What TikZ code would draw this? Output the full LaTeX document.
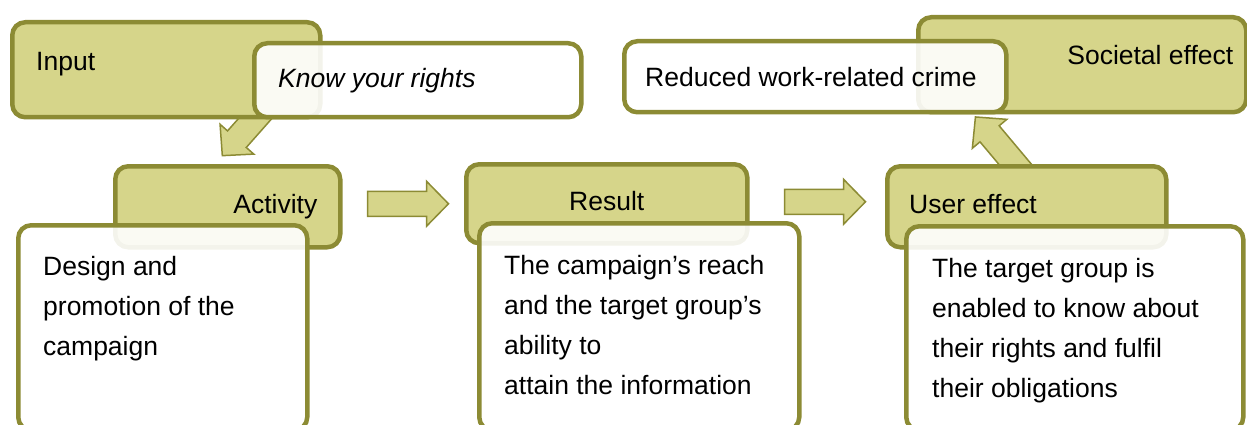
\documentclass[tikz,border=0pt]{standalone}
\usepackage{fontspec}
\setmainfont{Liberation Sans}
\usetikzlibrary{positioning}

\definecolor{olivefill}{RGB}{214,213,138}
\definecolor{oliveline}{RGB}{140,139,52}

\tikzset{
	blockarrow/.pic={
		\draw[oliveline, line width=1.5pt, fill=olivefill, line join=miter]
		(0,-12.5) -- (59,-12.5) -- (59,-22.5) -- (81,0) -- (59,22.5) -- (59,12.5) -- (0,12.5) -- cycle;
	}
}

\begin{document}
\begin{tikzpicture}[x=1pt,y=-1pt,
	every node/.style={font=\fontsize{26.5}{40}\selectfont},
	stage/.style={draw=oliveline, line width=4.5pt, fill=olivefill, rounded corners=13pt,
		inner sep=0pt, anchor=north west},
	note/.style={stage, fill=white, fill opacity=0.9},
	txt/.style={inner sep=0pt, text=black}]
	
	\useasboundingbox (0,0) rectangle (1247,425);
	
	% boxes first (the big arrows sit under them)
	\coordinate (inputcorner) at (10,20);
	\coordinate (usercorner) at (885,164);
	\coordinate (actcorner) at (113,164);
	\coordinate (rescorner) at (464,162);
	
	\pic[rotate=228.5] at ([shift={(266,75)}]inputcorner) {blockarrow};
	
	\node[stage, minimum width=308, minimum height=95] (input) at (inputcorner) {};
	\node[note, minimum width=327, minimum height=74] (know) at (252,41) {};
	\node[txt, anchor=base west] at ([shift={(26,51)}]input.north west) {Input};
	\node[txt, anchor=base west] at ([shift={(26,47)}]know.north west) {\itshape Know your rights};
	
	\node[stage, minimum width=225, minimum height=81] (activity) at (actcorner) {};
	\node[note, minimum width=289, minimum height=205] (actdesc) at (16,223) {};
	\node[txt, anchor=base east] at ([shift={(-25,49)}]activity.north east) {Activity};
	\node[txt, align=left, anchor=north west] at ([shift={(27,33)}]actdesc.north west)
		{Design and\\promotion of the\\campaign};
	
	\node[stage, minimum width=281, minimum height=79] (result) at (rescorner) {};
	\node[note, minimum width=320, minimum height=207] (resdesc) at (477,221) {};
	\node[txt, anchor=base] at ([shift={(0,48)}]result.north) {Result};
	\node[txt, align=left, anchor=north west] at ([shift={(27,34)}]resdesc.north west)
		{The campaign’s reach\\and the target group’s\\ability to\\attain the information};
	
	\pic[rotate=130] at ([shift={(142.5,15)}]usercorner) {blockarrow};
	
	\node[stage, minimum width=279, minimum height=81] (user) at (usercorner) {};
	\node[note, minimum width=337, minimum height=204] (userdesc) at (904,224) {};
	\node[txt, anchor=base west] at ([shift={(24,49)}]user.north west) {User effect};
	\node[txt, align=left, anchor=north west] at ([shift={(28,34)}]userdesc.north west)
		{The target group is\\enabled to know about\\their rights and fulfil\\their obligations};
	
	\node[stage, minimum width=328, minimum height=95] (societal) at (916,15) {};
	\node[note, minimum width=382, minimum height=71] (reduced) at (622,39) {};
	\node[txt, anchor=base east] at ([shift={(-15,50)}]societal.north east) {Societal effect};
	\node[txt, anchor=base west] at ([shift={(23,48)}]reduced.north west) {Reduced work-related crime};
	
	% flow between the stages
	\pic at ([shift={(25,-3)}]activity.east) {blockarrow};
	\pic at ([shift={(35,-2)}]result.east) {blockarrow};
	
\end{tikzpicture}
\end{document}
